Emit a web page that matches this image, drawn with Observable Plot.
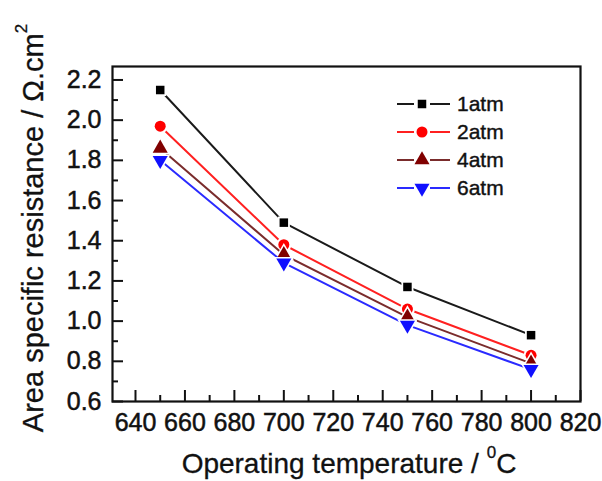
<!DOCTYPE html>
<html><head><meta charset="utf-8">
<script src="https://cdn.jsdelivr.net/npm/d3@7"></script>
<script src="https://cdn.jsdelivr.net/npm/@observablehq/plot@0.6"></script>
<style>
body{margin:0;background:#fff;font-family:"Liberation Sans",Arial,sans-serif;color:#111;}
#wrap{position:relative;width:602px;height:481px;overflow:hidden;}
#chart{position:absolute;left:0;top:0;}
#chart svg text{stroke:#111;stroke-width:0.5px;}
.ytitle{position:absolute;left:33px;top:228px;transform:translate(-50%,-50%) rotate(-90deg);white-space:nowrap;font-size:29px;-webkit-text-stroke:0.3px #111;}
.xtitle{position:absolute;left:349px;top:464px;transform:translate(-50%,-50%);white-space:nowrap;font-size:28px;-webkit-text-stroke:0.3px #111;}
sup{font-size:17px;vertical-align:top;position:relative;top:-5px;}
#legend{position:absolute;left:395px;top:90px;}
.li{display:flex;align-items:center;height:28px;font-size:21px;-webkit-text-stroke:0.4px #111;}
.li svg{margin-right:4px;}
</style></head><body>
<div id="wrap">
<div id="chart"></div>
<div class="ytitle">Area specific resistance / Ω.cm<sup>2</sup></div>
<div class="xtitle">Operating temperature / <sup>0</sup>C</div>
<div id="legend"></div>
</div>
<script>
const temperatures = [650, 700, 750, 800];
const seriesNames = ["1atm", "2atm", "4atm", "6atm"];
const asr1atm = [2.15, 1.49, 1.17, 0.93];
const asr2atm = [1.97, 1.38, 1.06, 0.83];
const asr4atm = [1.86, 1.33, 1.02, 0.79];
const asr6atm = [1.80, 1.29, 0.98, 0.76];
const xTicks = [640, 660, 680, 700, 720, 740, 760, 780, 800, 820];
const xMinorTicks = [650, 670, 690, 710, 730, 750, 770, 790, 810];
const yTicks = [0.6, 0.8, 1.0, 1.2, 1.4, 1.6, 1.8, 2.0, 2.2];
const yMinorTicks = [0.7, 0.9, 1.1, 1.3, 1.5, 1.7, 1.9, 2.1];

const values = [asr1atm, asr2atm, asr4atm, asr6atm];
const styles = [
  {line: "#1a1a1a", marker: "#000", symbol: "square", r: 4.8, rotate: 0},
  {line: "#ff2020", marker: "#ff0000", symbol: "circle", r: 5.5, rotate: 0},
  {line: "#7a2c2c", marker: "#800000", symbol: "triangle", r: 5.6, rotate: 0},
  {line: "#2a2aff", marker: "#1010ff", symbol: "triangle", r: 5.6, rotate: 180}
];
const series = seriesNames.map((name, i) => ({
  name, ...styles[i],
  rows: temperatures.map((t, j) => ({t, v: values[i][j], name}))
}));

const marks = [];
series.forEach(s => {
  marks.push(Plot.line(s.rows, {x: "t", y: "v", stroke: s.line, strokeWidth: 2}));
  marks.push(Plot.dot(s.rows, {x: "t", y: "v", symbol: s.symbol, r: s.r + 2, fill: "white", rotate: s.rotate}));
  marks.push(Plot.dot(s.rows, {x: "t", y: "v", symbol: s.symbol, r: s.r, fill: s.marker, rotate: s.rotate}));
});

const chart = Plot.plot({
  width: 602, height: 481,
  marginLeft: 112, marginRight: 22, marginTop: 66, marginBottom: 80,
  style: {fontFamily: "Liberation Sans, Arial, sans-serif", fontSize: "25px", background: "white", color: "#111"},
  x: {domain: [630.7, 820]},
  y: {domain: [0.6, 2.267]},
  marks: [
    ...marks,
    Plot.axisX({ticks: xTicks, tickSize: -11, fill: "none", label: null, strokeWidth: 2}),
    Plot.axisX({ticks: xMinorTicks, tickSize: -6, fill: "none", label: null, strokeWidth: 2}),
    Plot.axisX({ticks: xTicks, tickSize: 0, tickPadding: 12, fontSize: 25, label: null, tickFormat: d => String(d)}),
    Plot.axisY({ticks: yTicks, tickSize: -11, fill: "none", label: null, strokeWidth: 2}),
    Plot.axisY({ticks: yMinorTicks, tickSize: -6, fill: "none", label: null, strokeWidth: 2}),
    Plot.axisY({ticks: yTicks, tickSize: 0, tickPadding: 11, fontSize: 25, label: null, tickFormat: d => d.toFixed(1)}),
    Plot.frame({stroke: "#111", strokeWidth: 2.2})
  ]
});
document.getElementById("chart").append(chart);

// legend
const legend = document.getElementById("legend");
const pathFor = (s) => {
  const sym = {square: d3.symbolSquare, circle: d3.symbolCircle, triangle: d3.symbolTriangle}[s.symbol];
  return d3.symbol(sym, Math.PI * s.r * s.r)();
};
series.forEach(s => {
  const row = document.createElement("div");
  row.className = "li";
  row.innerHTML = `<svg width="58" height="20" viewBox="0 0 58 20">
    <line x1="2" x2="19" y1="10" y2="10" stroke="${s.line}" stroke-width="2"/>
    <line x1="35" x2="55" y1="10" y2="10" stroke="${s.line}" stroke-width="2"/>
    <path d="${pathFor(s)}" fill="${s.marker}" transform="translate(27,10) rotate(${s.rotate})"/>
  </svg><span>${s.name}</span>`;
  legend.append(row);
});
</script>
</body></html>
